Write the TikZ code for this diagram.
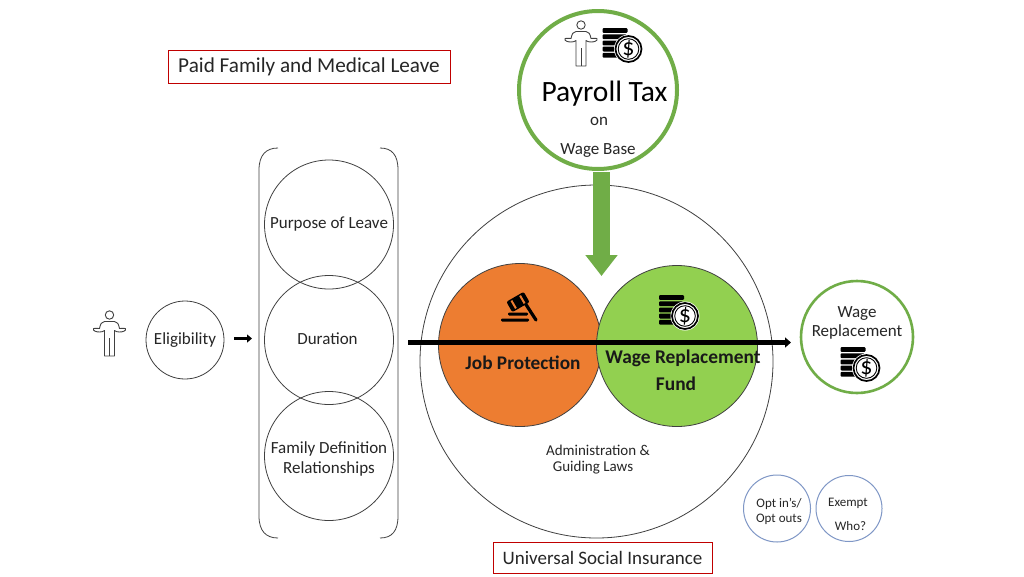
\documentclass[tikz,border=0pt]{standalone}
\usepackage{fontspec}
\setmainfont{Carlito}
\usetikzlibrary{arrows.meta}
\definecolor{grn}{HTML}{70AD47}
\definecolor{lime}{HTML}{92D050}
\definecolor{org}{HTML}{ED7D31}
\definecolor{redb}{HTML}{C00000}
\definecolor{blu}{HTML}{7F97C6}
\definecolor{gry}{HTML}{404040}
\newcommand{\fs}[1]{\fontsize{#1}{#1}\selectfont}
\tikzset{
  x=1pt,y=-1pt,
  circ/.style={circle,draw=gry,line width=0.8pt,inner sep=0pt,minimum size=#1},
  txt/.style={text=black!85,inner sep=0pt,align=center},
  redbox/.style={draw=redb,line width=1pt,inner sep=0pt,text=black!85,minimum width=#1},
  person/.pic={
    \draw[line width=0.9pt,gry,line join=round] (0,0) circle (4.2);
    \draw[line width=0.9pt,gry,line join=round]
      (-5,6.5) -- (5,6.5) .. controls (8,6.5) and (9,9) .. (10,13.5)
      .. controls (12,14) and (15,12.5) .. (16,13.5)
      .. controls (17,16) and (13,17) .. (10,17)
      .. controls (8,17) and (6,16.5) .. (5,15.5)
      -- (5,41) -- (-5,41) -- (-5,15.5)
      .. controls (-6,16.5) and (-8,17) .. (-10,17)
      .. controls (-13,17) and (-17,16) .. (-16,13.5)
      .. controls (-15,12.5) and (-12,14) .. (-10,13.5)
      .. controls (-9,9) and (-8,6.5) .. (-5,6.5) -- cycle;
    \draw[line width=0.9pt,gry] (0,23) -- (0,41);
  },
  coins/.pic={
    \foreach \yy/\ww in {-18.5/25,-12.3/24,-6.1/20,0.1/20,6.3/22}
      \fill[black,rounded corners=1pt] (-26,\yy-2.4) rectangle (-26+\ww,\yy+2.4);
    \fill[white] (0,0) circle (14.5);
    \draw[black,line width=1.7pt] (0,0) circle (13);
    \draw[black,line width=0.9pt] (0,0) circle (10.3);
    \node[inner sep=0pt,text=black] at (0,0) {\fs{24}\$};
  },
  gavel/.pic={
    \fill[black,rounded corners=1.2pt] (-19,9.5) rectangle (9,12.5);
    \fill[black,rounded corners=1.2pt] (-12,3.5) rectangle (8,6.5);
    \draw[black,line width=3.2pt,line cap=round] (5,-6) -- (16,11);
    \begin{scope}[shift={(-2,-7)},rotate=30]
      \fill[black,rounded corners=2pt] (-10,-6) rectangle (10,6);
      \fill[org] (-6,-4.5) rectangle (-4,4.5);
      \fill[org] (4,-4.5) rectangle (6,4.5);
    \end{scope}
  }
}
\begin{document}
\begin{tikzpicture}
\useasboundingbox (0,0) rectangle (1024,576);
\fill[white] (0,0) rectangle (1024,576);

% red label boxes
\node[redbox=282,minimum height=33] (paid) at (309,66.5) {\raisebox{-2.5pt}{\fs{21.2}Paid Family and Medical Leave}};
\node[redbox=219,minimum height=31] (usi) at (602.5,557.5) {\fs{19}Universal Social Insurance};

% left column
\pic at (109.5,315) {person};
\node[circ=78,txt] (elig) at (185,340) {\fs{17}\raisebox{1pt}{Eligibility}};
\coordinate (smallstart) at (234,338.5);
\coordinate (smallend) at (252,338.5);
\draw[line width=3pt,-{Triangle[width=8pt,length=5pt]}] (smallstart) -- (smallend);

% brackets
\draw[gry,line width=0.8pt] (278,148) .. controls (266,148) and (259,155) .. (259,170) -- (259,516) .. controls (259,531) and (266,538) .. (278,538);
\draw[gry,line width=0.8pt] (380,148) .. controls (392,148) and (398,155) .. (398,170) -- (398,516) .. controls (398,531) and (392,538) .. (380,538);

\node[circ=129,txt] (purpose) at (329,224.5) {\fs{17}\raisebox{-1.5pt}{Purpose of Leave}};
\node[circ=129,txt] (duration) at (329,340) {};
\node[txt] (durtxt) at (327.5,338.5) {\fs{17}Duration};
\node[circ=129,txt] (family) at (329,456) {};
\node[txt] (famtxt) at (329,459) {\fs{17}Family Definition\\[4.5pt]\fs{17}Relationships};

% centre
\node[circ=353] (big) at (596.5,361.5) {};
\node[circ=163,fill=org] (job) at (520,345) {};
\node[circ=161,fill=lime] (fund) at (677,346) {};
\pic at (520,309) {gavel};
\pic at (685,316) {coins};
\node[inner sep=0pt,text=black!90] (jobt) at (523,363) {\fs{19.3}\bfseries Job Protection};
\node[inner sep=0pt,text=black!90] (fundt) at (683,358) {\fs{19.4}\bfseries Wage Replacement};
\node[inner sep=0pt,text=black!90] (fundb) at (676,384) {\fs{19.4}\bfseries Fund};
\node[txt] (admin) at (598,459.5) {\fs{15}Administration \&\\[3.5pt]\fs{15}\hspace*{-10pt}Guiding Laws};

% payroll
\node[circle,draw=grn,line width=4pt,fill=white,inner sep=0pt,minimum size=158] (payroll) at (598,90) {};
\pic at (581,25) {person};
\pic at (628.5,49) {coins};
\node[inner sep=0pt,text=black] (ptax) at (604.5,94) {\fs{29.5}Payroll Tax};
\node[txt] (pon) at (599,121) {\fs{17}on};
\node[txt] (pbase) at (598,151) {\fs{17}Wage Base};

% wage replacement
\node[circle,draw=grn,line width=2.6pt,fill=white,inner sep=0pt,minimum size=112] (wage) at (857,337) {};
\node[txt] (waget) at (857,323) {\fs{17}Wage\\[4pt]\fs{17}Replacement};
\pic at (866.5,368) {coins};

% small circles
\node[circle,draw=blu,line width=1pt,inner sep=0pt,minimum size=67] (opt) at (777,508.5) {};
\node[txt] at (779,511) {\fs{13}Opt in’s/\\[3pt]\fs{13}Opt outs};
\node[circle,draw=blu,line width=1pt,inner sep=0pt,minimum size=66] (exempt) at (849,508.5) {};
\node[txt] at (848,503.5) {\fs{13}Exempt};
\node[txt] at (850.5,526) {\fs{13}Who?};

% arrows
\coordinate (greentip) at (601.5,276);
\coordinate (greenstart) at (601.5,172);
\draw[grn,line width=17pt,-{Triangle[width=31pt,length=21pt]}] (greenstart) -- (greentip);
\coordinate (lstart) at (408,342.5);
\coordinate (lend) at (791,342.5);
\draw[black,line width=4.5pt,-{Triangle[width=10pt,length=6pt]}] (lstart) -- (lend);
\end{tikzpicture}
\end{document}
